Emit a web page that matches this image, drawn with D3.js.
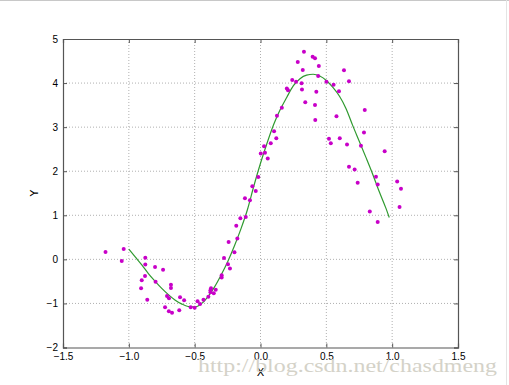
<!DOCTYPE html>
<html>
<head>
<meta charset="utf-8">
<script src="https://cdn.jsdelivr.net/npm/d3@7"></script>
<style>
  body { margin: 0; background: #fff; }
  svg { display: block; font-family: "DejaVu Sans", sans-serif; }
  .grid line { stroke: #b0b0b0; stroke-dasharray: 1,2; }
  .axis path, .axis line { stroke: #555; }
  .axis text { font-size: 10px; fill: #000; }
</style>
</head>
<body>
<div id="chart"></div>
<script>
// scattered samples (magenta dots)
const sampleX = [-1.177, -1.054, -1.039, -0.875, -0.875, -0.801, -0.740, -0.877, -0.902, -0.797,
  -0.907, -0.680, -0.680, -0.860, -0.710, -0.695, -0.725, -0.696, -0.672, -0.611,
  -0.580, -0.617, -0.530, -0.500, -0.478, -0.459, -0.433, -0.396, -0.380, -0.376,
  -0.380, -0.355, -0.340, -0.295, -0.295, -0.277, -0.247, -0.232, -0.242, -0.198,
  -0.176, -0.184, -0.153, -0.112, -0.118, -0.080, -0.062, -0.036, -0.017, 0.002,
  0.034, 0.027, 0.055, 0.078, 0.120, 0.103, 0.125, 0.162, 0.200, 0.209,
  0.241, 0.270, 0.312, 0.315, 0.321, 0.283, 0.330, 0.396, 0.414, 0.443,
  0.438, 0.424, 0.340, 0.414, 0.416, 0.501, 0.555, 0.596, 0.634, 0.672,
  0.577, 0.520, 0.534, 0.602, 0.657, 0.792, 0.786, 0.763, 0.943, 0.672,
  0.715, 0.738, 0.877, 0.890, 1.038, 1.067, 1.056, 0.830, 0.890];
const sampleY = [0.168, -0.036, 0.236, 0.039, -0.116, -0.172, -0.234, -0.376, -0.474, -0.506,
  -0.655, -0.574, -0.649, -0.914, -0.830, -0.882, -1.087, -1.175, -1.209, -0.860,
  -0.928, -1.153, -1.087, -1.098, -0.950, -1.011, -0.916, -0.848, -0.699, -0.658,
  -0.745, -0.767, -0.688, -0.411, -0.361, 0.032, -0.109, -0.206, 0.395, 0.163,
  0.472, 0.765, 0.931, 0.961, 1.386, 1.341, 1.659, 1.552, 1.868, 2.401,
  2.421, 2.566, 2.286, 2.634, 2.748, 2.909, 3.258, 3.440, 3.878, 3.839,
  4.071, 4.032, 3.996, 3.855, 4.297, 4.479, 4.713, 4.600, 4.566, 4.388,
  4.161, 3.802, 3.565, 3.504, 3.164, 4.030, 3.964, 3.814, 4.293, 4.039,
  3.247, 2.739, 2.634, 2.750, 2.607, 3.390, 2.880, 2.580, 2.455, 2.101,
  2.039, 1.741, 1.873, 1.699, 1.767, 1.601, 1.188, 1.088, 0.850];

// fitted curve (green line)
const fitX = [-1.00, -0.95, -0.90, -0.85, -0.80, -0.75, -0.70, -0.65, -0.60, -0.55,
  -0.50, -0.45, -0.40, -0.35, -0.30, -0.25, -0.20, -0.15, -0.10, -0.05,
  0.00, 0.05, 0.10, 0.15, 0.20, 0.25, 0.30, 0.35, 0.40, 0.45,
  0.50, 0.55, 0.60, 0.65, 0.70, 0.75, 0.80, 0.85, 0.90, 0.95, 0.978];
const fitY = [0.23, 0.05, -0.13, -0.33, -0.50, -0.66, -0.80, -0.92, -1.01, -1.07,
  -1.08, -1.01, -0.85, -0.63, -0.36, -0.06, 0.29, 0.68, 1.12, 1.67,
  2.18, 2.64, 3.06, 3.40, 3.68, 3.94, 4.10, 4.18, 4.20, 4.16,
  4.06, 3.90, 3.70, 3.42, 3.04, 2.68, 2.32, 1.95, 1.55, 1.18, 0.95];

const xTicks = [-1.5, -1.0, -0.5, 0.0, 0.5, 1.0, 1.5];
const yTicks = [-2, -1, 0, 1, 2, 3, 4, 5];

const W = 509, H = 385;
const margin = { top: 39, right: 51, bottom: 37.5, left: 63 },
    width = W - margin.left - margin.right,
    height = H - margin.top - margin.bottom;

const minus = s => s.replace("-", "\u2212");

const svg = d3.select("#chart")
    .append("svg")
    .attr("width", W)
    .attr("height", H);

// page border lines seen at top / right edge
svg.append("line").attr("x1", 0).attr("x2", W).attr("y1", 0.5).attr("y2", 0.5)
    .style("stroke", "#c8c8c8");
svg.append("line").attr("x1", W - 2.5).attr("x2", W - 2.5).attr("y1", 0).attr("y2", H)
    .style("stroke", "#e4e4e4");

const g = svg.append("g")
    .attr("transform", `translate(${margin.left},${margin.top})`);

const x = d3.scaleLinear().domain([-1.5, 1.5]).range([0, width]);
const y = d3.scaleLinear().domain([-2, 5]).range([height, 0]);

// grid
g.append("g").attr("class", "grid")
    .selectAll("line").data(xTicks.slice(1, -1)).join("line")
    .attr("x1", d => x(d)).attr("x2", d => x(d))
    .attr("y1", 0).attr("y2", height);
g.append("g").attr("class", "grid")
    .selectAll("line").data(yTicks.slice(1, -1)).join("line")
    .attr("y1", d => y(d)).attr("y2", d => y(d))
    .attr("x1", 0).attr("x2", width);

// axes, ticks pointing inward like classic matplotlib
g.append("g").attr("class", "axis")
    .attr("transform", `translate(0,${height})`)
    .call(d3.axisBottom(x).tickValues(xTicks).tickSize(-4).tickPadding(5)
        .tickFormat(d => minus(d3.format(".1f")(d))));
g.append("g").attr("class", "axis")
    .call(d3.axisLeft(y).tickValues(yTicks).tickSize(-4).tickPadding(5)
        .tickFormat(d => minus(String(d))));
g.append("g").attr("class", "axis")
    .call(d3.axisTop(x).tickValues(xTicks).tickSize(-4).tickFormat(""));
g.append("g").attr("class", "axis")
    .attr("transform", `translate(${width},0)`)
    .call(d3.axisRight(y).tickValues(yTicks).tickSize(-4).tickFormat(""));
g.selectAll(".axis .domain").style("stroke", "#555").style("stroke-width", 1.2);

// fitted line
const line = d3.line()
    .x((d, i) => x(fitX[i]))
    .y(d => y(d))
    .curve(d3.curveMonotoneX);
g.append("path")
    .datum(fitY)
    .attr("fill", "none")
    .attr("stroke", "#2f9a2f")
    .attr("stroke-width", 1.2)
    .attr("d", line);

// scatter
g.append("g")
    .selectAll("circle")
    .data(sampleX)
    .join("circle")
    .attr("cx", d => x(d))
    .attr("cy", (d, i) => y(sampleY[i]))
    .attr("r", 2)
    .attr("fill", "#c800c8");

// axis labels
svg.append("text")
    .attr("x", margin.left + width / 2)
    .attr("y", H - 9)
    .attr("text-anchor", "middle")
    .style("font-size", "11px")
    .text("X");
svg.append("text")
    .attr("transform", `translate(38,${margin.top + height / 2}) rotate(-90)`)
    .attr("text-anchor", "middle")
    .style("font-size", "11px")
    .text("Y");

// watermark
svg.append("text")
    .attr("x", 198)
    .attr("y", 372)
    .attr("textLength", 299)
    .attr("lengthAdjust", "spacingAndGlyphs")
    .style("font-family", "'Liberation Serif', serif")
    .style("font-size", "19px")
    .style("fill", "#d4d2c8")
    .text("http://blog.csdn.net/chasdmeng");
</script>
</body>
</html>
